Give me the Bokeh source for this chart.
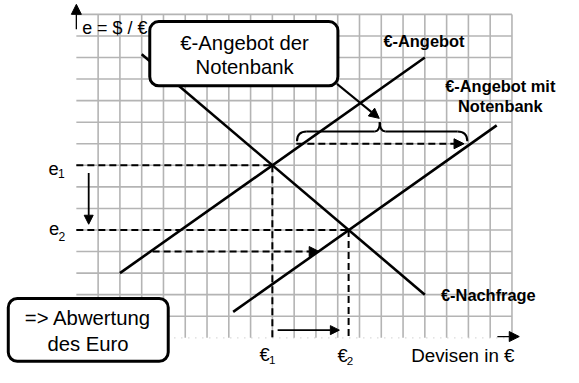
from bokeh.plotting import figure
from bokeh.models import Range1d, Label, BoxAnnotation, Arrow, NormalHead
from bokeh.embed import file_html
from bokeh.resources import INLINE

# ---------------- data (grid units) ----------------
grid_x = list(range(1, 21))          # vertical grid lines
grid_y = list(range(1, 16))          # horizontal grid lines
supply_x = [2.0, 16.0]               # €-Angebot
supply_y = [3.0, 13.0]
supply_nb_x = [7.2, 19.3]            # €-Angebot mit Notenbank
supply_nb_y = [1.2, 9.85]
demand_x = [3.0, 16.0]               # €-Nachfrage
demand_y = [13.15, 2.0]
e1, e2 = 8.0, 5.0                    # exchange rates
q1, q2 = 9.0, 12.5                   # quantities €1, €2
shift_y = [9.0, 4.0]                 # levels of the dashed shift arrows
shift_x0 = [10.1, 3.5]
shift_x1 = [17.8, 11.15]

# ---------------- layout helpers (reference pixels -> grid units) ----------------
RW, RH = 579, 383                    # reference picture size
W, H = 563, 367                      # figure size (fits the window)
OX, OY, SX, SY = 78.0, 352.0, 22.4, 22.5
def X(px): return (px - OX) / SX
def Y(py): return (OY - py) / SY
FS = (W / RW + H / RH) / 2           # font scale

FONT = "Liberation Sans"

p = figure(width=W, height=H, output_backend="svg", toolbar_location=None,
           x_range=Range1d(X(0), X(RW)), y_range=Range1d(Y(RH), Y(0)),
           x_axis_type=None, y_axis_type=None, min_border=0)
p.grid.visible = False
p.outline_line_color = None
p.background_fill_color = "white"
p.border_fill_color = "white"

GRID = "#b4b4b4"
# grid
p.segment(x0=grid_x, y0=[0] * len(grid_x), x1=grid_x, y1=[15] * len(grid_x),
          line_color=GRID, line_width=1.6)
p.segment(x0=[0] * len(grid_y), y0=grid_y, x1=[20] * len(grid_y), y1=grid_y,
          line_color=GRID, line_width=1.6)
p.line([0, 20], [0, 0], line_color="#c8c8c8", line_width=1.2, line_dash="1 6")

# curves
for xs, ys in [(supply_x, supply_y), (supply_nb_x, supply_nb_y), (demand_x, demand_y)]:
    p.line(xs, ys, line_color="black", line_width=2.6)

# dashed guide lines
DASH = "7 4"
p.line([0, q1], [e1, e1], line_color="black", line_width=2, line_dash=DASH)
p.line([q1, q1], [e1, 0], line_color="black", line_width=2, line_dash=DASH)
p.line([0, q2], [e2, e2], line_color="black", line_width=2, line_dash=DASH)
p.line([q2, q2], [e2, 0], line_color="black", line_width=2, line_dash=DASH)

# brace
bl, bf0, bf1, bt, bf2, bf3, br = 10.13, 10.58, 13.7, 13.93, 14.2, 17.5, 17.95
by0, by1, byt = 9.12, 9.57, 10.01
p.quadratic(x0=[bl, bt, bf3, bf2], y0=[by0, byt, by1, by1],
            x1=[bf0, bf1, br, bt], y1=[by1, by1, by0, byt],
            cx=[bl, bt, br, bt], cy=[by1, by1, by1, by1],
            line_color="black", line_width=2)
p.segment(x0=[bf0, bf2], y0=[by1, by1], x1=[bf1, bf3], y1=[by1, by1],
          line_color="black", line_width=2)

def head(size=10):
    return NormalHead(size=size, fill_color="black", line_color="black", line_width=1)

# axis arrows
p.add_layout(Arrow(x_start=X(511), y_start=Y(350.7), x_end=X(533.5), y_end=Y(350.7),
                   end=head(10), line_width=1.3, line_color="black"))
p.add_layout(Arrow(x_start=0, y_start=Y(30), x_end=0, y_end=Y(4),
                   end=head(10), line_width=1.3, line_color="black"))

# shift arrows (dashed)
for ys, xa, xb in zip(shift_y, shift_x0, shift_x1):
    p.add_layout(Arrow(x_start=xa, y_start=ys, x_end=xb, y_end=ys, end=head(10),
                       line_width=2, line_color="black", line_dash=DASH))
# e down arrow, € right arrow
p.add_layout(Arrow(x_start=X(90.7), y_start=Y(180), x_end=X(90.7), y_end=Y(233.5),
                   end=head(9), line_width=1.8, line_color="black"))
p.add_layout(Arrow(x_start=X(285), y_start=Y(344), x_end=X(348.5), y_end=Y(344),
                   end=head(9), line_width=1.8, line_color="black"))
# box -> brace arrow
p.add_layout(Arrow(x_start=X(346), y_start=Y(87), x_end=X(389.5), y_end=Y(123),
                   end=head(10), line_width=2, line_color="black"))

def lab(px, py, text, size, bold=False, align="center"):
    p.add_layout(Label(x=X(px), y=Y(py), text=text, text_font=FONT,
                       text_font_size=f"{size * FS:.1f}px",
                       text_font_style="bold" if bold else "normal",
                       text_align=align, text_baseline="middle", text_color="black"))

# axis labels and tick labels
lab(84, 28.5, "e = $ / €", 18.5, align="left")
lab(54.5, 175.5, "e", 19)
lab(62.5, 180.5, "1", 12.5)
lab(55, 238, "e", 19)
lab(63, 246.5, "2", 12.5)
lab(271.7, 369, "€", 19)
lab(279.5, 375.5, "1", 12)
lab(351.7, 370, "€", 19)
lab(359.5, 376, "2", 12)
lab(475.5, 370, "Devisen in €", 19.5)

# curve labels
lab(435.5, 42, "€-Angebot", 17, bold=True)
lab(514, 89.5, "€-Angebot mit", 17, bold=True)
lab(514, 110.5, "Notenbank", 17, bold=True)
lab(453, 307.5, "€-Nachfrage", 17, bold=True, align="left")

# callout boxes
p.add_layout(BoxAnnotation(left=X(153.5), right=X(347), top=Y(22), bottom=Y(89),
                           fill_color="white", fill_alpha=1.0, line_color="black",
                           line_alpha=1.0, line_width=3, border_radius=9))
lab(251, 44.5, "€-Angebot der", 21)
lab(251, 69, "Notenbank", 21)

p.add_layout(BoxAnnotation(left=X(8), right=X(172.5), top=Y(311), bottom=Y(376.5),
                           fill_color="white", fill_alpha=1.0, line_color="black",
                           line_alpha=1.0, line_width=3, border_radius=9))
lab(90, 331.5, "=> Abwertung", 21)
lab(90, 358, "des Euro", 21)

open("out.html", "w").write(file_html(p, INLINE))
